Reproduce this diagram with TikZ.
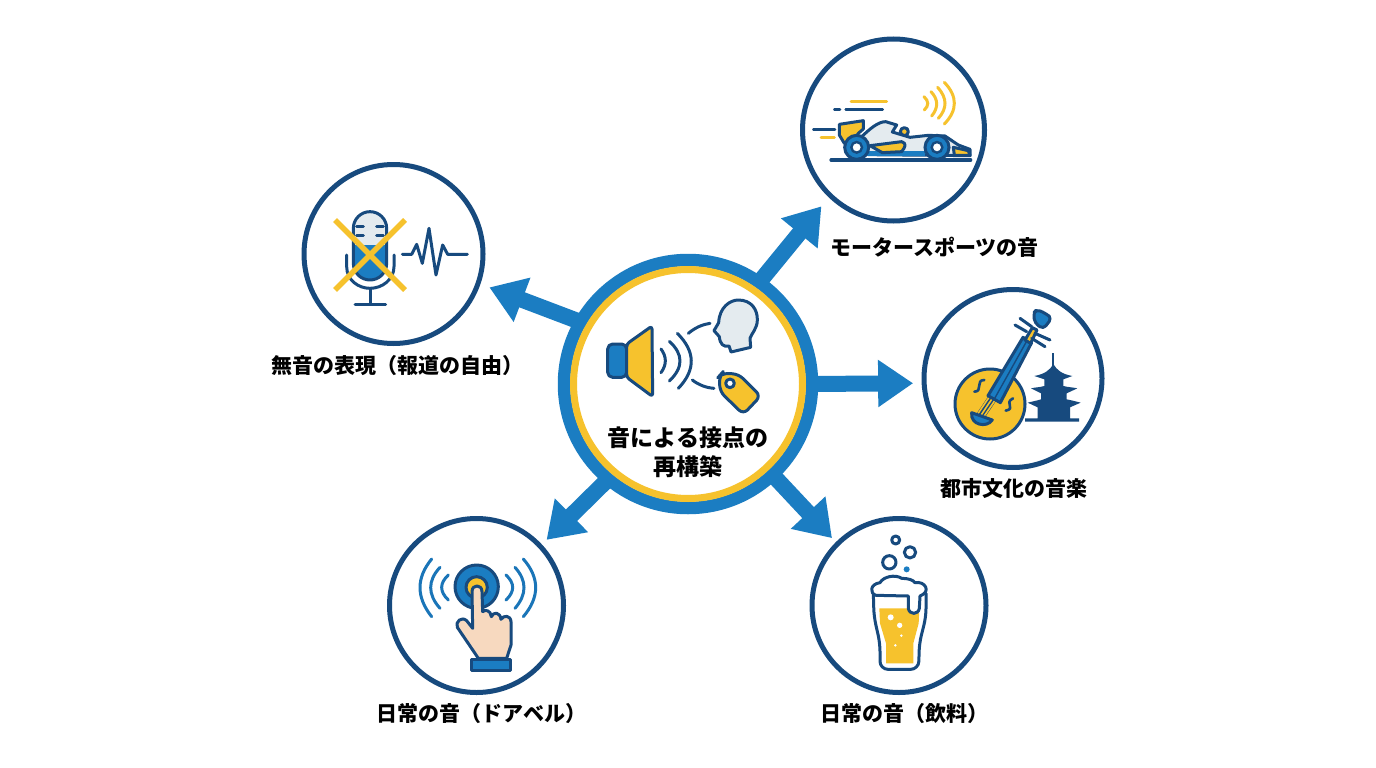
\documentclass[tikz,border=0pt]{standalone}
\usepackage{fontspec}
\setmainfont{Noto Sans CJK JP}
\usetikzlibrary{arrows.meta,calc}
\definecolor{navy}{HTML}{174A7E}
\definecolor{azure}{HTML}{1B7DC2}
\definecolor{gold}{HTML}{F6C22D}
\definecolor{mist}{HTML}{E4EBEF}
\definecolor{skin}{HTML}{F7D9BF}
\tikzset{
  topic/.style={circle,draw=navy,line width=5pt,fill=white,inner sep=0pt,outer sep=0pt,minimum size=#1},
  spoke/.style={draw=azure,line width=16pt,-{Triangle[length=35pt,width=45pt]}},
  caption/.style={font=\bfseries\fontsize{21}{25}\selectfont,text=black,inner sep=0pt},
  headline/.style={font=\bfseries\fontsize{23}{29}\selectfont,text=black,inner sep=0pt},
  icon/.style 2 args={shift={(#1,#2)},x=0.33333pt,y=-0.33333pt},
  ink/.style={draw=navy,line width=3pt,line join=round,line cap=round},
  thin ink/.style={draw=navy,line width=2.6pt,line cap=round,line join=round},
  goldline/.style={draw=gold,line width=3pt,line cap=round},
  ripple/.style={draw=azure!85!navy,line width=3pt,line cap=round},
}
% Smooth bow from #2 to #4 pulled towards #3
\newcommand{\bow}[4]{\draw[#1] (#2) .. controls ($(#2)!.6667!(#3)$) and ($(#4)!.6667!(#3)$) .. (#4);}
\begin{document}
\begin{tikzpicture}[x=1pt,y=-1pt]
\useasboundingbox[fill=white] (0,0) rectangle (1376,768);

% Central hub and the five topic circles
\node[circle,fill=white,inner sep=0pt,outer sep=0pt,minimum size=248pt] (hub) at (688,384) {};
\node[topic=182pt] (race) at (893.5,130) {};
\node[topic=179pt] (mute) at (393.5,254) {};
\node[topic=178pt] (city) at (1013,378.5) {};
\node[topic=174pt] (bell) at (476.5,605.5) {};
\node[topic=174pt] (beer) at (899,605.5) {};

% Spokes from hub to topics
\draw[spoke,shorten >=14pt] (hub.55.4) -- (race.226.7);
\draw[spoke,shorten >=12pt] (hub.150) -- (mute.-19.4);
\draw[spoke,shorten >=11pt] (hub.0) -- (city.183.5);
\draw[spoke,shorten >=9pt] (hub.230.8) -- (bell.43.8);
\draw[spoke,shorten >=8pt] (hub.-47.2) -- (beer.135.9);
\draw[azure,line width=12.5pt] (hub.center) circle (124);
\draw[gold,line width=7pt] (hub.center) circle (114.5);

% Hub icon: speaker, sound waves, head and price tag
\begin{scope}[icon={560}{270}]
  \draw[ink,fill=azure,rounded corners=5pt] (143,222) rectangle (200,322);
  \draw[ink,fill=gold,rounded corners=3pt] (200,222) -- (276,168) -- (278,380) -- (200,322) -- cycle;
  \bow{ink}{303,237}{329,272}{303,308}
  \bow{ink}{328,214}{392,272}{328,333}
  \bow{ink}{352,190}{434,272}{355,355}
  \bow{ink}{385,190}{415,165}{450,160}
  \bow{ink}{397,330}{425,352}{462,355}
  \draw[ink,fill=mist] (513,246) -- (507,228) .. controls (490,232) and (480,222) .. (478,200)
     -- (462,182) -- (476,158) .. controls (478,112) and (510,90) .. (535,90)
     .. controls (575,90) and (593,120) .. (592,150) .. controls (592,175) and (575,190) .. (570,205)
     -- (572,232) -- cycle;
  \draw[ink,fill=gold,rounded corners=6pt] (478,318) -- (485,310) -- (535,312) -- (602,378) -- (550,433) -- (480,365) -- cycle;
  \draw[ink,fill=white] (510,340) circle (13);
\end{scope}

% Racing car
\begin{scope}[icon={795}{30}]
  \draw[goldline] (168,215) -- (275,215);
  \draw[thin ink] (118,239) -- (135,239);
  \draw[thin ink] (152,239) -- (263,239);
  \draw[thin ink] (55,298) -- (120,298);
  \draw[goldline] (78,323) -- (118,323);
  \bow{goldline}{387,200}{409,220}{388,240}
  \bow{goldline}{408,185}{441,220}{410,258}
  \bow{goldline}{428,172}{471,220}{430,265}
  \bow{goldline}{448,157}{508,220}{448,282}
  \draw[ink,fill=gold] (133,283) -- (205,272) -- (205,297) -- (190,310) -- (170,340) -- (148,340) -- (133,315) -- cycle;
  \draw[ink,fill=gold] (328,305) circle (12);
  \draw[ink,fill=mist] (192,328) .. controls (225,295) and (250,275) .. (272,275) -- (305,285) -- (292,306)
     -- (345,322) -- (400,316) -- (450,318) -- (490,345) -- (525,358) -- (525,377) -- (220,374) -- cycle;
  \fill[azure] (215,364) rectangle (390,377);
  \draw[ink,fill=gold] (225,347) -- (320,335) .. controls (335,340) and (332,350) .. (320,365) -- (262,368) -- cycle;
  \draw[ink,fill=gold] (475,352) -- (520,362) -- (525,376) -- (478,376) -- cycle;
  \draw[ink,line width=3.2pt] (108,390) -- (527,390);
  \foreach \wx in {185,426} {
    \draw[draw=navy,line width=3pt,fill=azure] (\wx,352) circle (36);
    \draw[draw=navy,line width=2.4pt,fill=white] (\wx,352) circle (16);
  }
\end{scope}

% Crossed-out microphone with waveform
\begin{scope}[icon={295}{155}]
  \draw[ink] (322,298) -- (350,298) -- (365,268) -- (382,325) -- (402,220) -- (423,360) -- (443,270) -- (458,298) -- (517,298);
  \fill[mist] (175,270) -- (175,220) arc (180:360:50) -- (275,270) -- cycle;
  \fill[azure] (175,270) -- (275,270) -- (275,325) arc (0:180:50) -- cycle;
  \draw[ink] (175,220) arc (180:360:50) -- (275,325) arc (0:180:50) -- cycle;
  \foreach \gy in {215,240} {
    \draw[ink] (185,\gy) -- (205,\gy);
    \draw[ink] (245,\gy) -- (265,\gy);
  }
  \draw[ink] (155,300) -- (155,335) .. controls (155,375) and (190,400) .. (225,400)
     .. controls (260,400) and (297,375) .. (297,335) -- (297,300);
  \draw[ink] (225,400) -- (225,448);
  \draw[ink] (180,448) -- (272,448);
  \draw[gold,line width=5.5pt] (120,195) -- (330,405);
  \draw[gold,line width=5.5pt] (330,195) -- (120,405);
\end{scope}

% Shamisen-like instrument and pagoda
\begin{scope}[icon={915}{280}]
  \draw[navy,line width=2pt] (415,220) -- (415,265);
  \fill[navy] (358,288) .. controls (390,282) and (405,270) .. (415,252) .. controls (425,270) and (440,282) .. (472,288)
     -- (445,298) -- (445,318) .. controls (460,322) and (475,322) .. (487,325) -- (455,340) -- (455,358)
     .. controls (475,362) and (485,365) .. (497,368) -- (465,382) -- (465,415) -- (492,415) -- (492,425)
     -- (330,425) -- (330,415) -- (368,415) -- (368,382) -- (338,368) .. controls (350,365) and (365,362) .. (378,358)
     -- (378,340) -- (348,325) .. controls (360,322) and (375,322) .. (388,318) -- (388,298) -- cycle;
  \draw[draw=navy,line width=3pt,fill=gold] (225,372) circle (105);
  \draw[thin ink] (178,335) .. controls (205,335) and (180,300) .. (208,300);
  \draw[thin ink] (294,355) .. controls (265,370) and (305,385) .. (272,392);
  \draw[draw=navy,line width=9pt,line cap=butt] (232,355) -- (195,410);
  \draw[goldline,line width=1.6pt,line cap=butt] (222,352) -- (186,405);
  \draw[goldline,line width=1.6pt,line cap=butt] (232,355) -- (195,410);
  \draw[goldline,line width=1.6pt,line cap=butt] (242,358) -- (205,412);
  \draw[ink,fill=azure] (170,398) -- (232,420) .. controls (215,445) and (165,435) .. (170,398) -- cycle;
  \draw[ink,fill=azure] (219,347) -- (256,368) -- (350,188) -- (324,172) -- cycle;
  \draw[ink,line width=1.4pt] (238,357) -- (337,180);
  \draw[ink,fill=gold] (330,180) -- (352,143) -- (366,150) -- (347,190) -- cycle;
  \draw[ink] (300,135) -- (335,155);
  \draw[ink] (315,115) -- (350,140);
  \draw[ink] (360,160) -- (405,180);
  \draw[ink] (350,175) -- (390,200);
  \draw[ink,fill=azure,rounded corners=4pt] (355,100) -- (365,88) -- (395,102) -- (410,115) -- (385,147) -- (360,130) -- cycle;
\end{scope}

% Finger pressing a doorbell
\begin{scope}[icon={380}{510}]
  \draw[ink,fill=azure] (290,230) circle (65);
  \draw[ink,fill=gold] (290,232) circle (32);
  \bow{ripple}{205,195}{165,232}{205,270}
  \bow{ripple}{180,172}{124,232}{180,295}
  \bow{ripple}{155,147}{85,232}{155,320}
  \bow{ripple}{378,195}{418,232}{378,270}
  \bow{ripple}{405,172}{459,232}{405,295}
  \bow{ripple}{430,147}{504,232}{430,320}
  \draw[ink,fill=skin] (276,245) .. controls (276,222) and (306,222) .. (306,245) -- (308,305)
     .. controls (315,298) and (332,300) .. (334,320)
     .. controls (340,305) and (360,305) .. (363,328)
     .. controls (370,315) and (392,315) .. (393,335)
     -- (393,405) -- (380,445) -- (295,445) -- (270,408) -- (232,352)
     .. controls (225,335) and (245,318) .. (260,332) -- (278,355) -- cycle;
  \draw[ink,fill=azure] (275,449) -- (390,449) -- (390,482) -- (275,482) -- cycle;
\end{scope}

% Glass of beer with bubbles
\begin{scope}[icon={800}{510}]
  \draw[ink] (287,90) circle (12);
  \draw[ink] (330,127) circle (17);
  \draw[ink] (268,157) circle (20);
  \fill[azure] (320,178) circle (9);
  \draw[ink,fill=white,rounded corners=8pt] (220,250) -- (222,320) -- (240,400) -- (240,478) -- (356,478) -- (358,400) -- (378,320) -- (378,250);
  \fill[gold] (238,295) -- (358,295) -- (356,340) -- (340,400) -- (340,460) -- (258,460) -- (258,400) -- (240,340) -- cycle;
  \draw[ink,fill=white] (228,256) .. controls (208,250) and (210,222) .. (240,218)
     .. controls (250,200) and (285,192) .. (305,205) .. controls (325,205) and (340,210) .. (345,218)
     .. controls (375,212) and (395,245) .. (360,258) -- (358,295)
     .. controls (355,315) and (328,315) .. (325,295) -- (325,258) -- cycle;
  \fill[white] (272,322) circle (9);
  \fill[white] (299,346) circle (8);
  \fill[white] (304,377) circle (4);
  \fill[white] (286,406) circle (4);
\end{scope}

% Labels
\node[headline] (hubtop) at (688,438) {音による接点の};
\node[headline] (hubbottom) at (688,467) {再構築};
\node[caption] (racelabel) at (934.5,247) {モータースポーツの音};
\node[caption] (mutelabel) at (397,366) {無音の表現（報道の自由）};
\node[caption] (citylabel) at (1013.5,489) {都市文化の音楽};
\node[caption] (belllabel) at (481.5,714) {日常の音（ドアベル）};
\node[caption] (beerlabel) at (904,714) {日常の音（飲料）};
\end{tikzpicture}
\end{document}
